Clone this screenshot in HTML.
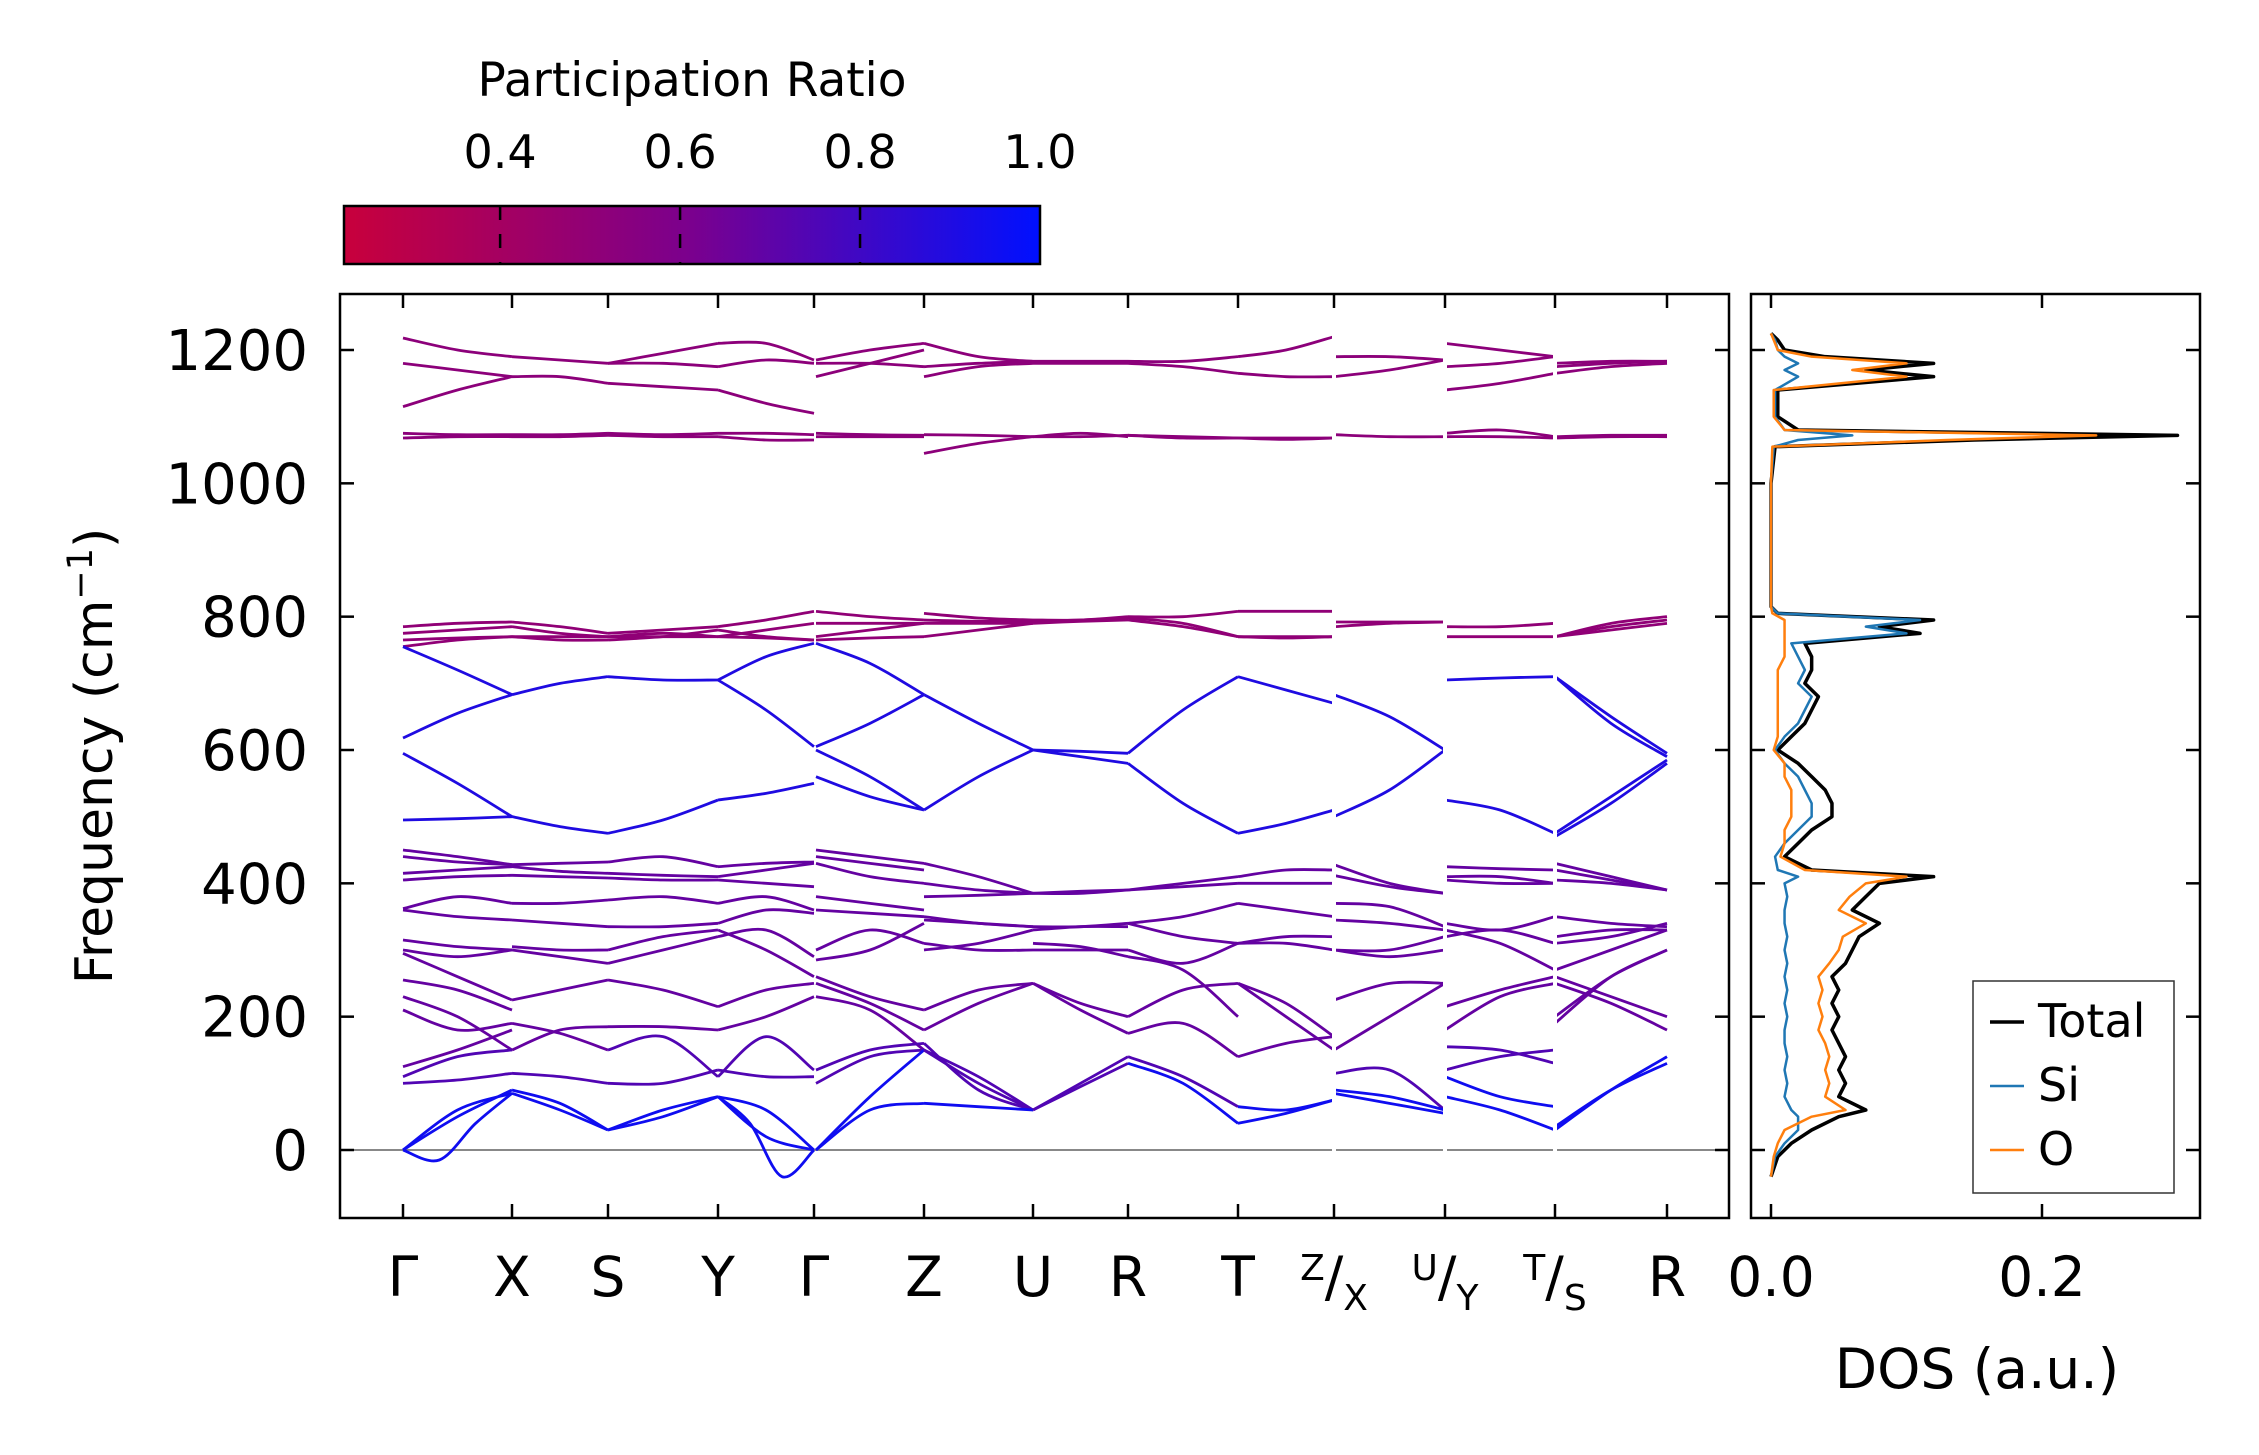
<!DOCTYPE html>
<html><head><meta charset="utf-8"><style>
body{margin:0;background:#fff}
svg{display:block;font-family:"DejaVu Sans","Liberation Sans",sans-serif}
</style></head><body>
<svg id="fig" width="2259" height="1455" viewBox="0 0 2259 1455" xmlns="http://www.w3.org/2000/svg">
<defs>
<linearGradient id="cmap" x1="0" x2="1" y1="0" y2="0">
<stop offset="0" stop-color="#c8003c"/><stop offset="0.5" stop-color="#7a008e"/><stop offset="1" stop-color="#0010ff"/>
</linearGradient>
<clipPath id="clipMain"><rect x="340" y="294" width="1389" height="924"/></clipPath>
<clipPath id="clipDos"><rect x="1751" y="294" width="449" height="924"/></clipPath>
</defs>
<g id="colorbar">
<text x="692" y="96" font-size="47" text-anchor="middle">Participation Ratio</text>
<rect x="344" y="206" width="696" height="58" fill="url(#cmap)" stroke="#000" stroke-width="2.5"/>
</g>
<g id="main"></g>
<g id="dos"></g>
</svg>
<script>
// ---- data ----
const kLabels = ["Γ","X","S","Y","Γ","Z","U","R","T","Z/X","U/Y","T/S","R"];
const yTicks = [0,200,400,600,800,1000,1200];
const cbTicks = [0.4,0.6,0.8,1.0];
const dosTicks = [0.0,0.2];
const seg0 = [[1218,1200,1190],[1180,1170,1160],[1115,1140,1160],[1075,1073,1073],[1068,1070,1070],[785,790,792],[775,780,785],[765,768,770],[755,765,770],[755,720,683],[618,655,683],[595,550,500],[495,497,500],[450,440,428],[440,432,428],[415,420,425],[405,410,412],[362,380,370],[360,350,345],[315,305,300],[300,290,300],[295,260,225],[255,240,210],[230,200,150],[210,180,190],[125,150,180],[110,140,150],[100,105,115],[0,60,85],[0,50,90],[0,-15,40,85]];
const seg1 = [[1190,1185,1180],[1160,1160,1150],[1073,1073,1075],[1070,1070,1072],[792,785,775],[785,775,770],[770,770,770],[770,765,765],[683,700,710],[500,485,475],[428,430,432],[425,418,415],[412,410,408],[370,370,375],[345,340,335],[300,290,280],[305,300,300],[225,240,255],[190,175,150],[150,180,185],[115,110,100],[85,60,30],[90,70,30]];
const seg2 = [[1180,1195,1210],[1150,1145,1140],[1180,1180,1175],[1075,1073,1075],[1072,1070,1070],[775,780,785],[770,775,770],[770,770,770],[765,770,780],[710,705,705],[475,495,525],[432,440,425],[415,412,410],[408,405,405],[375,380,370],[335,335,340],[280,300,320],[300,320,330],[255,240,215],[185,185,180],[150,170,110],[100,100,120],[30,60,80],[30,50,80]];
const seg3 = [[1210,1210,1185],[1175,1185,1180],[1140,1120,1105],[1075,1075,1073],[1070,1065,1065],[785,795,808],[770,780,790],[770,768,765],[780,770,765],[705,740,760],[705,660,605],[525,535,550],[425,430,432],[410,420,430],[405,400,395],[370,380,360],[340,360,355],[320,330,290],[330,300,260],[215,240,250],[180,200,230],[110,170,120],[120,110,110],[80,60,0],[80,20,0],[80,40,-40,0]];
const seg4 = [[1185,1200,1210],[1180,1180,1175],[1160,1180,1200],[1075,1073,1072],[1070,1070,1070],[808,800,795],[790,790,790],[765,768,770],[770,780,790],[760,730,683],[605,640,683],[600,560,510],[560,530,510],[450,440,430],[440,430,420],[430,410,400],[380,370,360],[360,355,350],[300,330,310],[285,300,340],[260,230,210],[250,220,180],[230,210,150],[120,150,160],[100,140,150],[0,80,150],[0,60,70]];
const seg5 = [[1210,1190,1183],[1175,1180,1183],[1160,1175,1180],[1073,1072,1070],[1045,1060,1070],[805,798,795],[795,793,793],[770,780,790],[790,790,790],[683,640,600],[510,560,600],[430,410,385],[400,390,385],[380,382,385],[350,340,335],[345,340,335],[310,300,300],[300,310,330],[210,240,250],[180,220,250],[150,100,60],[160,90,60],[150,110,60],[70,65,60]];
const seg6 = [[1183,1183,1183],[1180,1180,1180],[1070,1070,1072],[1070,1075,1070],[795,795,800],[790,793,795],[793,795,798],[600,598,595],[600,590,580],[385,388,390],[385,385,390],[335,335,340],[330,335,335],[300,300,300],[310,305,290],[250,220,200],[250,210,175],[60,100,140],[60,95,130]];
const seg7 = [[1183,1183,1190],[1180,1175,1165],[1072,1070,1068],[1072,1068,1068],[800,800,808],[798,790,770],[795,785,770],[595,660,710],[580,520,475],[390,400,410],[390,395,400],[340,350,370],[340,320,310],[300,280,310],[290,270,200],[200,240,250],[175,190,140],[140,110,65],[130,100,40]];
const seg8 = [[1190,1200,1220],[1165,1160,1160],[1068,1068,1068],[1068,1066,1068],[808,808,808],[770,770,770],[770,768,770],[710,690,670],[475,490,510],[410,420,420],[400,400,400],[370,360,350],[310,320,320],[310,310,300],[250,220,170],[250,200,150],[140,160,170],[65,60,75],[40,55,75]];
const seg9 = [[1190,1190,1185],[1160,1170,1185],[1073,1070,1070],[792,792,792],[785,790,792],[683,650,600],[500,540,600],[428,400,385],[412,395,385],[370,365,335],[345,340,330],[300,300,320],[300,290,300],[225,250,250],[150,200,250],[115,120,60],[90,80,60],[85,70,55]];
const seg10 = [[1210,1200,1190],[1175,1180,1190],[1140,1150,1165],[1075,1080,1070],[1070,1070,1068],[785,785,790],[770,770,770],[705,708,710],[525,510,475],[425,422,420],[410,410,400],[405,400,400],[340,330,350],[320,330,310],[330,310,270],[215,240,260],[180,230,250],[155,150,130],[120,140,150],[110,80,65],[80,60,30]];
const seg11 = [[1180,1183,1183],[1175,1180,1183],[1165,1175,1180],[1070,1072,1072],[1068,1070,1070],[770,790,800],[770,785,795],[770,780,790],[710,650,595],[710,640,590],[475,530,585],[470,520,580],[430,410,390],[420,405,390],[405,400,390],[350,340,335],[320,330,330],[310,320,340],[270,300,330],[260,230,200],[250,220,180],[190,260,300],[200,260,300],[30,90,140],[35,90,130]];
const segments = [seg0,seg1,seg2,seg3,seg4,seg5,seg6,seg7,seg8,seg9,seg10,seg11];
const dosFreq = [-40,-10,10,30,50,60,80,100,120,140,160,180,200,220,240,260,280,300,320,340,360,380,400,410,420,440,460,480,500,520,540,560,580,600,620,640,660,680,700,720,740,760,775,785,795,805,815,850,1000,1055,1065,1072,1080,1100,1140,1160,1170,1180,1190,1200,1215,1225];
const dosTotal = [0,.005,.015,.03,.05,.07,.05,.055,.05,.055,.05,.045,.05,.045,.05,.045,.055,.06,.065,.08,.06,.07,.08,.12,.03,.01,.02,.03,.045,.045,.04,.03,.02,.005,.015,.025,.03,.035,.025,.03,.03,.025,.11,.08,.12,.005,0,0,0,.003,.15,.30,.02,.005,.005,.12,.07,.12,.04,.01,.005,0];
const dosSi = [0,.003,.01,.02,.02,.015,.01,.012,.01,.012,.01,.01,.012,.01,.012,.01,.012,.01,.012,.01,.01,.012,.01,.02,.005,.003,.01,.02,.03,.03,.025,.02,.01,.003,.01,.02,.025,.03,.02,.025,.02,.015,.1,.07,.11,.005,0,0,0,.002,.02,.06,.01,.003,.003,.02,.01,.02,.01,.005,.003,0];
const dosO = [0,.002,.005,.01,.03,.055,.04,.043,.04,.043,.04,.035,.038,.035,.038,.035,.043,.05,.053,.07,.05,.058,.07,.10,.025,.007,.01,.01,.015,.015,.015,.01,.01,.002,.005,.005,.005,.005,.005,.005,.01,.01,.01,.01,.01,.001,0,0,0,.001,.13,.24,.01,.002,.002,.10,.06,.10,.03,.005,.002,0];
const legendLabels = ["Total","Si","O"];
const legendColors = ["#000000","#1f77b4","#ff7f0e"];

// ---- geometry ----
const NS="http://www.w3.org/2000/svg";
const M={l:340,r:1729,t:294,b:1218}, D={l:1751,r:2200,t:294,b:1218};
const kx=[403,512,608,718,814,924,1033,1128,1238,1334,1445,1555,1667];
const breaks=[9,10,11];
const y0px=1150, y1200px=350;
const yS=f=>y0px-f/1200*(y0px-y1200px);
const dS=v=>1771+v/0.2*(2042-1771);
const cbS=v=>344+(v-0.2265)/(1-0.2265)*696;
function el(t,a,p){const e=document.createElementNS(NS,t);for(const k in a)e.setAttribute(k,a[k]);(p||document.getElementById('fig')).appendChild(e);return e;}
function prColor(p){const t=Math.max(0,Math.min(1,(p-0.225)/0.775));
 let r,g,b; if(t<0.5){const u=t/0.5;r=200+(122-200)*u;g=0;b=60+(142-60)*u;}else{const u=(t-0.5)/0.5;r=122*(1-u);g=16*u;b=142+(255-142)*u;}
 return `rgb(${r|0},${g|0},${b|0})`;}
function prOf(vals){const m=vals.reduce((a,b)=>a+b,0)/vals.length;
 if(m>1000)return 0.52; if(m>740)return 0.5; if(m>450)return 0.9; if(m>150)return 0.68; if(m>90)return 0.74; return 0.95;}
function smoothPath(pts){let d=`M${pts[0][0]},${pts[0][1]}`;
 for(let i=0;i<pts.length-1;i++){const p0=pts[i-1]||pts[i],p1=pts[i],p2=pts[i+1],p3=pts[i+2]||p2;
  d+=` C${p1[0]+(p2[0]-p0[0])/6},${p1[1]+(p2[1]-p0[1])/6} ${p2[0]-(p3[0]-p1[0])/6},${p2[1]-(p3[1]-p1[1])/6} ${p2[0]},${p2[1]}`;}
 return d;}

const main=document.getElementById('main');
const zl=el('line',{x1:M.l,x2:M.r,y1:yS(0),y2:yS(0),stroke:'#888',"stroke-width":2},main);


const bandG=el('g',{"clip-path":"url(#clipMain)"},main);


segments.forEach((seg,si)=>{
 const x0=kx[si]+(si===4?2:0),x1=kx[si+1];
 seg.forEach((band,bi)=>{
  const pts=band.map((f,i)=>[x0+(x1-x0)*i/(band.length-1),yS(f)]);
  const p=el('path',{d:smoothPath(pts),fill:'none',stroke:prColor(prOf(band)),"stroke-width":2.8},bandG);
  
  
 });
});
const fr=el('rect',{x:M.l,y:M.t,width:M.r-M.l,height:M.b-M.t,fill:'none',stroke:'#000',"stroke-width":2.5},main);


yTicks.forEach(v=>{const y=yS(v);
 el('line',{x1:M.l,x2:M.l+14,y1:y,y2:y,stroke:'#000',"stroke-width":2.5},main);
 el('line',{x1:M.r,x2:M.r-14,y1:y,y2:y,stroke:'#000',"stroke-width":2.5},main);
 el('line',{x1:D.l,x2:D.l+14,y1:y,y2:y,stroke:'#000',"stroke-width":2.5},main);
 el('line',{x1:D.r,x2:D.r-14,y1:y,y2:y,stroke:'#000',"stroke-width":2.5},main);
 const t=el('text',{x:M.l-32,y:y+20,"font-size":56,"text-anchor":"end"},main);t.textContent=v;
 
 
});
const yt=el('text',{x:112,y:756,"font-size":52,"text-anchor":"middle",transform:"rotate(-90 112 756)"},main);
yt.innerHTML='Frequency (cm<tspan dy="-20" font-size="35">−1</tspan><tspan dy="20">)</tspan>';


kLabels.forEach((lab,i)=>{const x=kx[i];
 el('line',{x1:x,x2:x,y1:M.b,y2:M.b-14,stroke:'#000',"stroke-width":2.5},main);
 el('line',{x1:x,x2:x,y1:M.t,y2:M.t+14,stroke:'#000',"stroke-width":2.5},main);
 if(breaks.includes(i)){el('line',{x1:x,x2:x,y1:M.t+16,y2:M.b-16,stroke:'#fff',"stroke-width":4},bandG);}
 const t=el('text',{x:x,y:1296,"font-size":55,"text-anchor":"middle"},main);
 if(lab.includes('/')){const [a,b]=lab.split('/');t.innerHTML=`<tspan font-size="36" dy="-16">${a}</tspan><tspan dy="16">/</tspan><tspan font-size="36" dy="14">${b}</tspan>`;}
 else t.textContent=lab;
 
 
});
const cbG=document.getElementById('colorbar');
cbTicks.forEach(v=>{const x=cbS(v);
 if(v<1){el('line',{x1:x,x2:x,y1:206,y2:264,stroke:'#000',"stroke-width":2.5,"stroke-dasharray":"14 14"},cbG);}
 const t=el('text',{x:x,y:168,"font-size":46,"text-anchor":"middle"},cbG);t.textContent=v.toFixed(1);
 
 
});
const dos=document.getElementById('dos');
const dG=el('g',{"clip-path":"url(#clipDos)"},dos);
[[dosTotal,'#000',3.5,'dos-total-line'],[dosSi,'#1f77b4',2.5,'dos-si-line'],[dosO,'#ff7f0e',2.5,'dos-o-line']].forEach(([arr,c,w,n])=>{
 const d=arr.map((v,i)=>(i?'L':'M')+dS(v)+','+yS(dosFreq[i])).join(' ');
 const p=el('path',{d:d,fill:'none',stroke:c,"stroke-width":w,"stroke-linejoin":"round"},dG);
 
 
});
const df=el('rect',{x:D.l,y:D.t,width:D.r-D.l,height:D.b-D.t,fill:'none',stroke:'#000',"stroke-width":2.5},dos);


dosTicks.forEach(v=>{const x=dS(v);
 el('line',{x1:x,x2:x,y1:D.b,y2:D.b-14,stroke:'#000',"stroke-width":2.5},dos);
 el('line',{x1:x,x2:x,y1:D.t,y2:D.t+14,stroke:'#000',"stroke-width":2.5},dos);
 const t=el('text',{x:x,y:1296,"font-size":55,"text-anchor":"middle"},dos);t.textContent=v.toFixed(1);
 
 
});
const dt=el('text',{x:1977,y:1388,"font-size":55,"text-anchor":"middle"},dos);dt.textContent='DOS (a.u.)';


const lg=el('g',{},dos);


el('rect',{x:1973,y:981,width:201,height:212,fill:'#fff',stroke:'#333',"stroke-width":1.5},lg);
legendLabels.forEach((lab,i)=>{const y=1022+i*64;
 el('line',{x1:1990,x2:2024,y1:y,y2:y,stroke:legendColors[i],"stroke-width":i?2.5:3.5},lg);
 const t=el('text',{x:2038,y:y+15,"font-size":46},lg);t.textContent=lab;
 
 
});
</script>
</body></html>
